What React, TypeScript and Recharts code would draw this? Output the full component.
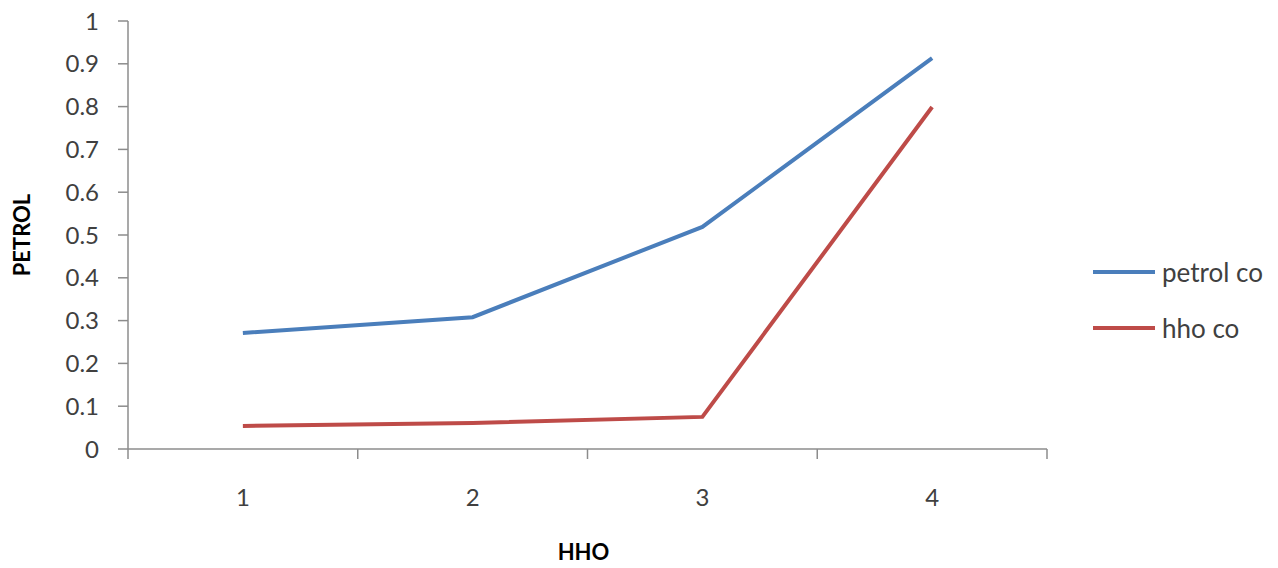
import { Legend, Line, LineChart, XAxis, YAxis } from "recharts";

const categories = [1, 2, 3, 4];
const petrolCo = [0.271, 0.308, 0.519, 0.913];
const hhoCo = [0.054, 0.061, 0.075, 0.799];
const seriesNames = ["petrol co", "hho co"];
const yTicks = [0, 0.1, 0.2, 0.3, 0.4, 0.5, 0.6, 0.7, 0.8, 0.9, 1];
const xTicks = [0.5, 1, 1.5, 2, 2.5, 3, 3.5, 4, 4.5];

const data = categories.map((c, i) => ({ x: c, petrol: petrolCo[i], hho: hhoCo[i] }));

const FONT = "Lato, 'Open Sans', sans-serif";
const AXIS = "#8c8c8c";
const TEXT = "#404040";

function XTick({ x, y, payload }: { x?: number; y?: number; payload?: { value: number } }) {
  const v = payload?.value ?? 0;
  if (!Number.isInteger(v)) {
    return <line x1={x} x2={x} y1={y} y2={(y ?? 0) + 10} stroke={AXIS} strokeWidth={1.5} />;
  }
  return (
    <text x={x} y={(y ?? 0) + 40} dy="0.71em" textAnchor="middle" fill={TEXT} fontSize={24} fontFamily={FONT}>
      {v}
    </text>
  );
}

function LegendBox({ payload }: { payload?: { value: string; color: string }[] }) {
  const items = [...(payload ?? [])].sort((a, b) => seriesNames.indexOf(a.value) - seriesNames.indexOf(b.value));
  return (
    <div style={{ fontFamily: FONT, fontSize: 26, color: TEXT, paddingLeft: 46 }}>
      {items.map((p) => (
        <div key={p.value} style={{ display: "flex", alignItems: "center", height: 56 }}>
          <span style={{ width: 62, height: 4, background: p.color, marginRight: 7 }} />
          <span>{p.value}</span>
        </div>
      ))}
    </div>
  );
}

export default function App() {
  return (
    <div style={{ position: "absolute", left: 0, top: 0, background: "#fff" }}>
      <LineChart width={1278} height={568} data={data} margin={{ top: 21, right: 15, bottom: 0, left: 0 }}>
        <XAxis
          dataKey="x"
          type="number"
          domain={[0.5, 4.5]}
          ticks={xTicks}
          interval={0}
          height={119}
          tickSize={0}
          tickMargin={0}
          tickLine={false}
          axisLine={{ stroke: AXIS, strokeWidth: 1.5 }}
          tick={<XTick />}
          label={{ value: "HHO", position: "center", dx: -4, dy: 44, style: { fontFamily: FONT, fontSize: 22, fontWeight: 700, fill: "#000" } }}
        />
        <YAxis
          domain={[0, 1]}
          ticks={yTicks}
          interval={0}
          width={128}
          tickSize={10}
          tickMargin={19}
          tickLine={{ stroke: AXIS, strokeWidth: 1.5 }}
          axisLine={{ stroke: AXIS, strokeWidth: 1.5 }}
          tick={{ fill: TEXT, fontSize: 24, fontFamily: FONT }}
          label={{ value: "PETROL", angle: -90, position: "center", dx: -42, style: { fontFamily: FONT, fontSize: 22, fontWeight: 700, fill: "#000" } }}
        />
        <Legend
          layout="vertical"
          align="right"
          verticalAlign="middle"
          content={<LegendBox />}
          wrapperStyle={{ top: 244, right: 15, width: 216 }}
        />
        <Line dataKey="petrol" name="petrol co" stroke="#4a7ebb" strokeWidth={4} dot={false} isAnimationActive={false} />
        <Line dataKey="hho" name="hho co" stroke="#be4b48" strokeWidth={4} dot={false} isAnimationActive={false} />
      </LineChart>
    </div>
  );
}
